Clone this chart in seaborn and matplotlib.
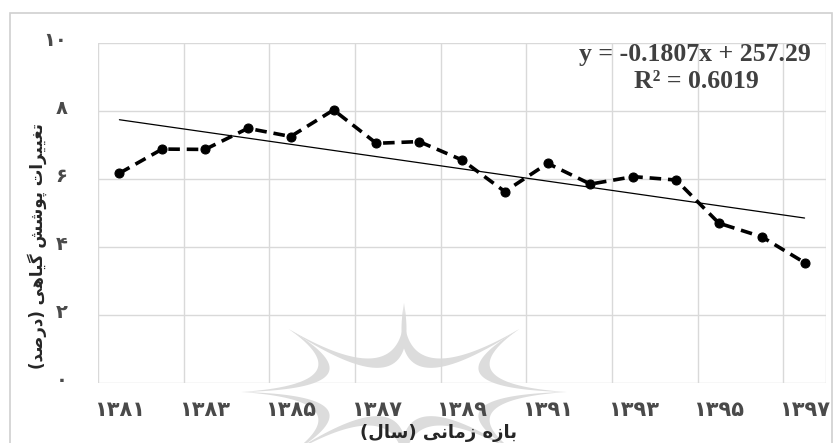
import numpy as np
import pandas as pd
import matplotlib
matplotlib.use("Agg")
import matplotlib.pyplot as plt
from matplotlib.patches import Rectangle, Polygon
from matplotlib.transforms import ScaledTranslation
import seaborn as sns

# ---- data ----
years = [1381, 1382, 1383, 1384, 1385, 1386, 1387, 1388, 1389,
         1390, 1391, 1392, 1393, 1394, 1395, 1396, 1397]
vegetation_change = [6.17, 6.88, 6.87, 7.49, 7.25, 8.03, 7.05, 7.10, 6.56,
                     5.63, 6.46, 5.85, 6.07, 5.97, 4.70, 4.30, 3.54]
trend_slope = -0.1807
trend_intercept = 257.29
r_squared = 0.6019
x_tick_years = [1381, 1383, 1385, 1387, 1389, 1391, 1393, 1395, 1397]
y_ticks = [0, 2, 4, 6, 8, 10]
x_title = "بازه زمانی (سال)"
y_title = "تغییرات پوشش گیاهی (درصد)"

# ---- simple Persian shaping (contextual forms + right-to-left order) ----
FORMS = {
    'ا': ('\ufe8d', '\ufe8e', None, None),
    'ب': ('\ufe8f', '\ufe90', '\ufe91', '\ufe92'),
    'پ': ('\ufb56', '\ufb57', '\ufb58', '\ufb59'),
    'ت': ('\ufe95', '\ufe96', '\ufe97', '\ufe98'),
    'د': ('\ufea9', '\ufeaa', None, None),
    'ر': ('\ufead', '\ufeae', None, None),
    'ز': ('\ufeaf', '\ufeb0', None, None),
    'س': ('\ufeb1', '\ufeb2', '\ufeb3', '\ufeb4'),
    'ش': ('\ufeb5', '\ufeb6', '\ufeb7', '\ufeb8'),
    'ص': ('\ufeb9', '\ufeba', '\ufebb', '\ufebc'),
    'غ': ('\ufecd', '\ufece', '\ufecf', '\ufed0'),
    'گ': ('\ufb92', '\ufb93', '\ufb94', '\ufb95'),
    'ل': ('\ufedd', '\ufede', '\ufedf', '\ufee0'),
    'م': ('\ufee1', '\ufee2', '\ufee3', '\ufee4'),
    'ن': ('\ufee5', '\ufee6', '\ufee7', '\ufee8'),
    'ه': ('\ufee9', '\ufeea', '\ufeeb', '\ufeec'),
    'و': ('\ufeed', '\ufeee', None, None),
    'ی': ('\ufbfc', '\ufbfd', '\ufbfe', '\ufbff'),
}


def shape_rtl(text):
    out = []
    for i, ch in enumerate(text):
        if ch not in FORMS:
            out.append(ch)
            continue
        iso, fin, ini, med = FORMS[ch]
        prev = text[i - 1] if i > 0 else None
        nxt = text[i + 1] if i + 1 < len(text) else None
        joins_prev = prev in FORMS and FORMS[prev][2] is not None
        joins_next = nxt in FORMS and ini is not None
        if joins_prev and joins_next:
            out.append(med)
        elif joins_prev:
            out.append(fin)
        elif joins_next:
            out.append(ini)
        else:
            out.append(iso)
    visual = ''.join(out)[::-1]
    return visual.translate(str.maketrans('()', ')('))


def fa_digits(value):
    return str(value).translate(str.maketrans('0123456789', '۰۱۲۳۴۵۶۷۸۹'))


# ---- figure ----
W, H = 840, 443
sns.set_style("white")
plt.rcParams['font.family'] = ['DejaVu Sans']

fig = plt.figure(figsize=(W / 100, H / 100), dpi=100)
ax = fig.add_axes([98 / W, 1 - 383 / H, 728 / W, 340 / H])
ax.set_facecolor("none")


def px(x, y):
    """pixel position (from top-left) -> figure fraction"""
    return x / W, 1 - y / H


# faint star-shaped logo in the background
def crescent(p1, p2, center, sag_out, sag_in, n=48):
    p1, p2, c = map(np.asarray, (p1, p2, center))
    mid = (p1 + p2) / 2
    d = c - mid
    d = d / np.hypot(*d)
    t = np.linspace(0, 1, n)
    base = p1[None, :] + (p2 - p1)[None, :] * t[:, None]
    bulge = 4 * t * (1 - t)
    outer = base + d[None, :] * (sag_out * bulge)[:, None]
    inner = base + d[None, :] * (sag_in * bulge)[:, None]
    return np.vstack([outer, inner[::-1]])


logo_c = np.array([404.0, 392.0])
rx, ry = 163.0, 89.0
angles = np.deg2rad(np.arange(0, 360, 45))
tips = [logo_c + np.array([rx * np.cos(a), -ry * np.sin(a)]) for a in angles]
for k in range(len(tips)):
    pts = crescent(tips[k], tips[(k + 1) % len(tips)], logo_c, 52, 64)
    pts_fig = np.array([px(x, y) for x, y in pts])
    fig.patches.append(Polygon(pts_fig, closed=True, transform=fig.transFigure,
                               facecolor="#dcdcdc", edgecolor="none",
                               zorder=-1))

df = pd.DataFrame({"year": years, "value": vegetation_change})

# main series: dashed black line with round markers
sns.lineplot(data=df, x="year", y="value", ax=ax, color="black",
             linewidth=2.6, marker="o", markersize=6.5,
             markeredgecolor="black", markerfacecolor="black", zorder=3)
ax.lines[-1].set_linestyle((0, (3.2, 1.9)))

# linear trend line from its equation
yrs = np.array(years, dtype=float)
sns.lineplot(x=yrs, y=trend_slope * yrs + trend_intercept, ax=ax,
             color="black", linewidth=0.9, zorder=2)

ax.set_xlim(years[0] - 0.5, years[-1] + 0.5)
ax.set_ylim(0, 10)

# grid: horizontal at y ticks, vertical at category boundaries every two years
grid_color = "#d9d9d9"
for y in y_ticks:
    ax.axhline(y, color=grid_color, lw=1.0, zorder=0)
for xb in list(np.arange(years[0] - 0.5, years[-1], 2)) + [years[-1] + 0.5]:
    ax.axvline(xb, color=grid_color, lw=1.0, zorder=0)

for s in ax.spines.values():
    s.set_visible(False)

ax.set_xticks(x_tick_years)
ax.set_xticklabels([fa_digits(v) for v in x_tick_years], fontsize=15,
                   fontweight="bold", color="#4a4a4a")
ax.set_yticks(y_ticks)
ax.set_yticklabels([fa_digits(v) for v in y_ticks], fontsize=14,
                   fontweight="bold", color="#4a4a4a")
ax.tick_params(axis="x", length=0, pad=12)
ax.tick_params(axis="y", length=0, pad=22)
lift = ScaledTranslation(0, 0.05, fig.dpi_scale_trans)
for lab in ax.get_yticklabels():
    lab.set_transform(lab.get_transform() + lift)

ax.set_xlabel("")
ax.set_ylabel("")
fig.text(*px(438, 433), shape_rtl(x_title), ha="center", va="center",
         fontsize=13, fontweight="bold", color="#262626")
fig.text(*px(37, 246), shape_rtl(y_title), ha="center", va="center",
         rotation=90, fontsize=12, fontweight="bold", color="#262626")

# regression equation
eq_style = dict(ha="center", va="center", family="Liberation Serif",
                fontweight="bold", fontsize=18.5, color="#404040")
fig.text(*px(695, 54), f"y = {trend_slope}x + {trend_intercept}", **eq_style)
fig.text(*px(696, 81), f"R² = {r_squared}", **eq_style)

# chart frame
fig.patches.append(Rectangle(px(10, 460), 822 / W, 447 / H,
                             transform=fig.transFigure, fill=False,
                             edgecolor="#d0d0d0", lw=1.2))

fig.savefig("out.png", dpi=100, facecolor="white")
